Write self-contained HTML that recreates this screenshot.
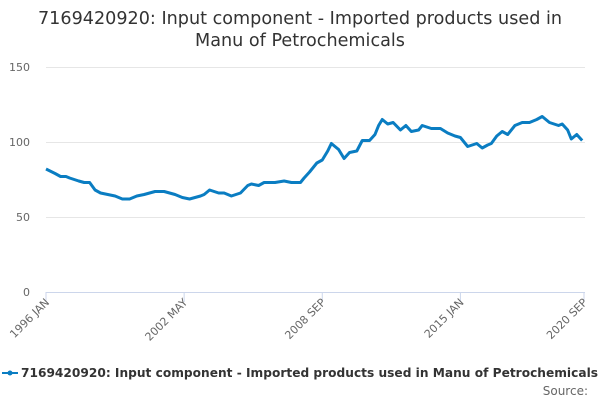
<!DOCTYPE html>
<html><head><meta charset="utf-8"><style>
body{margin:0;background:#fff;font-family:"DejaVu Sans","Liberation Sans",sans-serif;}
svg{display:block}
</style></head><body>
<svg width="600" height="400">
<text x="300" y="24" text-anchor="middle" font-size="17.6" fill="#333">7169420920: Input component - Imported products used in</text>
<text x="300" y="46" text-anchor="middle" font-size="17.6" fill="#333">Manu of Petrochemicals</text>
<g id="grid"></g><g id="yt"></g><g id="xt"></g>
<line x1="46" y1="292.5" x2="585" y2="292.5" stroke="#ccd6eb"/>
<g id="series"></g>
<g>
<line x1="2" y1="373" x2="18" y2="373" stroke="#0a7dc2" stroke-width="2"/>
<circle cx="10" cy="373" r="2.5" fill="#0a7dc2"/>
<text x="21" y="377" font-size="12.5" font-weight="bold" fill="#333" textLength="577" lengthAdjust="spacingAndGlyphs">7169420920: Input component - Imported products used in Manu of Petrochemicals</text>
</g>
<text x="588" y="395" text-anchor="end" font-size="12" fill="#666">Source:</text>
</svg>
<script>
const months=[0,5,8,11,13,18,21,23,24,27,30,34,38,42,46,50,54,60,65,71,75,79,85,87,90,95,98,102,107,111,113,117,120,126,131,135,140,142,145,149,152,155,157,161,164,167,171,174,178,181,183,185,188,191,195,198,201,205,207,212,217,221,225,228,232,237,240,243,245,248,251,254,258,262,266,270,273,277,282,284,287,289,292,295];
const values=[82,79,77,77,76,74,73,73,73,68,66,65,64,62,62,64,65,67,67,65,63,62,64,65,68,66,66,64,66,71,72,71,73,73,74,73,73,76,80,86,88,94,99,95,89,93,94,101,101,105,111,115,112,113,108,111,107,108,111,109,109,106,104,103,97,99,96,98,99,104,107,105,111,113,113,115,117,113,111,112,108,102,105,101,103];
const yTicks=[0,50,100,150];
const xTickMonths=[0,76,152,228,296];
const xTickLabels=["1996 JAN","2002 MAY","2008 SEP","2015 JAN","2020 SEP"];
const NS="http://www.w3.org/2000/svg";
const X=m=>46+m*(538/296);
const Y=v=>292-v*1.5;
const grid=document.getElementById('grid'),yt=document.getElementById('yt'),xt=document.getElementById('xt'),ser=document.getElementById('series');
yTicks.forEach(v=>{
  if(v>0){const l=document.createElementNS(NS,'line');
  l.setAttribute('x1',46);l.setAttribute('x2',585);l.setAttribute('y1',Y(v)+0.5);l.setAttribute('y2',Y(v)+0.5);l.setAttribute('stroke','#e6e6e6');
  
  
  grid.appendChild(l);}
  const t=document.createElementNS(NS,'text');
  t.setAttribute('x',30);t.setAttribute('y',Y(v)+4);t.setAttribute('text-anchor','end');t.setAttribute('font-size','11');t.setAttribute('fill','#666');
  t.textContent=v;
  
  
  yt.appendChild(t);
});
xTickMonths.forEach((m,i)=>{
  const x=X(m);
  const l=document.createElementNS(NS,'line');
  l.setAttribute('x1',x);l.setAttribute('x2',x);l.setAttribute('y1',292);l.setAttribute('y2',302);l.setAttribute('stroke','#ccd6eb');
  
  
  xt.appendChild(l);
  const t=document.createElementNS(NS,'text');
  t.setAttribute('x',x+4);t.setAttribute('y',303);t.setAttribute('text-anchor','end');t.setAttribute('font-size','11');t.setAttribute('fill','#666');
  t.setAttribute('transform','rotate(-45 '+(x+4)+' 303)');
  t.textContent=xTickLabels[i];
  
  
  xt.appendChild(t);
});
const p=document.createElementNS(NS,'polyline');
p.setAttribute('points',months.map((m,i)=>X(m)+','+Y(values[i])).join(' '));
p.setAttribute('fill','none');p.setAttribute('stroke','#0a7dc2');p.setAttribute('stroke-width','3');p.setAttribute('stroke-linejoin','round');


ser.appendChild(p);
</script>
</body></html>
